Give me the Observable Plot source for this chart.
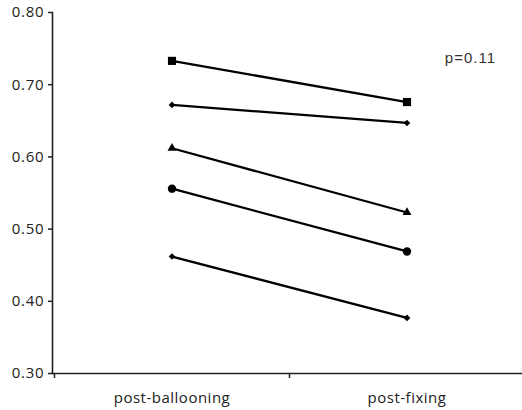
<!DOCTYPE html>
<html>
<head>
<meta charset="utf-8">
<script src="https://cdn.jsdelivr.net/npm/d3@7"></script>
<script src="https://cdn.jsdelivr.net/npm/@observablehq/plot@0.6"></script>
<style>
  html, body { margin: 0; padding: 0; background: #fff; }
  svg { display: block; }
  .ylab text { letter-spacing: 0.8px; }
  .xlab text { letter-spacing: 0.5px; }
  .ptext text { letter-spacing: 1px; }
</style>
</head>
<body>
<div id="chart"></div>
<script>
const categories = ["post-ballooning", "post-fixing"];
const seriesNames = ["A", "B", "C", "D", "E"];
const seriesSymbols = ["square", "diamond2", "triangle", "circle", "diamond2"];
const seriesSizes = [4.6, 3.0, 3.3, 4.2, 3.0];
const postBallooning = [0.733, 0.672, 0.612, 0.556, 0.462];
const postFixing = [0.676, 0.647, 0.523, 0.469, 0.377];
const yTicks = [0.30, 0.40, 0.50, 0.60, 0.70, 0.80];
const annotation = "p=0.11";

const rows = [];
seriesNames.forEach((s, i) => {
  rows.push({series: s, xi: 0, value: postBallooning[i], symbol: seriesSymbols[i], r: seriesSizes[i]});
  rows.push({series: s, xi: 1, value: postFixing[i], symbol: seriesSymbols[i], r: seriesSizes[i]});
});

const font = "'Open Sans', 'Noto Sans', sans-serif";

const chart = Plot.plot({
  width: 522,
  height: 410,
  marginLeft: 52,
  marginRight: 0,
  marginTop: 12,
  marginBottom: 37,
  style: {fontFamily: font, fontSize: "15px", color: "#222", background: "#fff"},
  x: {domain: [-0.5, 1.5], range: [54, 524]},
  y: {domain: [0.30, 0.80]},
  symbol: {type: "identity"},
  r: {type: "identity"},
  marks: [
    Plot.axisY({ticks: yTicks, tickFormat: d3.format(".2f"), tickSize: 4, tickPadding: 4, label: null, stroke: "#222", strokeWidth: 1.5, fontSize: 15, className: "ylab"}),
    Plot.axisX({ticks: [0, 1], tickFormat: i => categories[i], tickSize: 0, tickPadding: 19, label: null, fontSize: 15, className: "xlab"}),
    Plot.axisX({ticks: [-0.5, 0.5], tickFormat: () => "", tickSize: 5, label: null, stroke: "#222", strokeWidth: 1.5}),
    Plot.frame({anchor: "left", stroke: "#222", strokeWidth: 1.6}),
    Plot.frame({anchor: "bottom", stroke: "#222", strokeWidth: 1.6}),
    Plot.line(rows, {x: "xi", y: "value", z: "series", stroke: "#000", strokeWidth: 2.3}),
    Plot.dot(rows, {x: "xi", y: "value", symbol: "symbol", r: "r", fill: "#000", stroke: "none"}),
    Plot.text([annotation], {x: 1.27, y: 0.737, text: d => d, fontFamily: "'Liberation Sans', Arial, sans-serif", fontSize: 15, fill: "#333", textAnchor: "middle", className: "ptext"})
  ]
});
document.getElementById("chart").appendChild(chart);
</script>
</body>
</html>
